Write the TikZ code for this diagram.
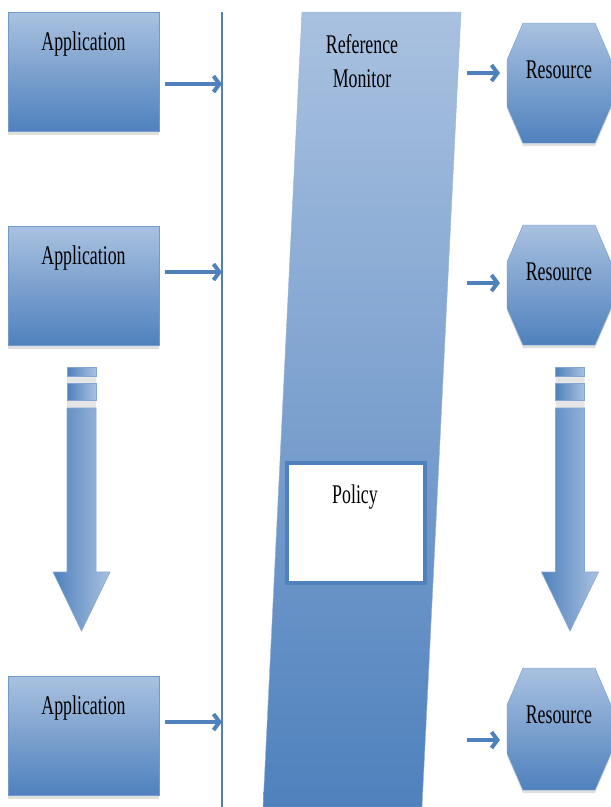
\documentclass[tikz,border=0pt]{standalone}
\usepackage{fontspec}
\setmainfont{Liberation Serif}[FakeStretch=0.66]
\usetikzlibrary{arrows.meta,shadows,positioning}
\definecolor{ofblue}{HTML}{4F81BD}
\definecolor{oflight}{HTML}{A9C1E0}
\tikzset{
  appbox/.style={rectangle,draw=ofblue!80,top color=oflight,bottom color=ofblue,
    minimum width=151pt,minimum height=119pt,inner sep=0pt,
    drop shadow={shadow xshift=0pt,shadow yshift=-3pt,opacity=.25}},
  resbox/.style={draw=ofblue!80,top color=oflight,bottom color=ofblue,
    drop shadow={shadow xshift=0pt,shadow yshift=-3pt,opacity=.25}},
  polbox/.style={rectangle,draw=ofblue,line width=4pt,fill=white,
    minimum width=138pt,minimum height=120pt,inner sep=0pt},
  lbl/.style={font=\fontsize{27}{34}\selectfont,align=center,inner sep=0pt},
  link/.style={ofblue,line width=4pt,-{Straight Barb[length=6pt,width=16pt]}},
  bigarrow/.style={left color=ofblue,right color=oflight,draw=ofblue!70,line width=.6pt}
}
\begin{document}
\begin{tikzpicture}[x=1pt,y=-1pt]% REFERENCE MONITOR
\useasboundingbox (0,0) rectangle (611,807);
\draw[ofblue,line width=2.5pt] (222,12) coordinate (ltop)--(222,807) coordinate (lbot);
\path[top color=oflight,bottom color=ofblue,draw=ofblue!60]
  (302,12)--(461,12)--(422,807)--(263,807)--cycle;
\node[lbl] (rm) at (362,61) {Reference\\Monitor};
\node[polbox] (pol) at (356,523) {};
\node[lbl] (polt) at (355,497) {Policy};
\foreach \i/\ya/\yl/\yt/\yb/\yrl in {1/72/84/23/143/73,2/286/272/225/345/283,3/736/722/668/790/740}{
  \node[appbox] (app\i) at (83.5,\ya) {};
  \node[lbl] at ([yshift=-32pt]app\i.north) {Application};
  \coordinate (a\i) at (222,\yl);
  \draw[link,shorten <=6pt] (app\i.east |- a\i)--(a\i);
  \path[resbox] (523,\yt)--(595,\yt)--(611,\yt+37)--(611,\yb-37)--(595,\yb)
    --(523,\yb)--(507,\yb-37)--(507,\yt+37)--cycle;
  \node[lbl] (res\i) at (559,\yt+47) {Resource};
  \coordinate (m\i) at (467,\yrl);
  \coordinate (rw\i) at (507,\yrl);
  \draw[link,shorten >=7pt] (m\i)--(rw\i);
}
\foreach \cx in {81.5,570}{
  \fill[gray!20] ({\cx-14.5},376) rectangle ({\cx+14.5},383) ({\cx-14.5},400) rectangle ({\cx+14.5},408);
  \path[bigarrow] ({\cx-14.5},367) rectangle ({\cx+14.5},376);
  \path[bigarrow] ({\cx-14.5},383) rectangle ({\cx+14.5},400);
  \path[bigarrow] ({\cx-14.5},408)--({\cx+14.5},408)--({\cx+14.5},572)--({\cx+28.5},572)
    --(\cx,631)--({\cx-28.5},572)--({\cx-14.5},572)--cycle;
}
\end{tikzpicture}
\end{document}
